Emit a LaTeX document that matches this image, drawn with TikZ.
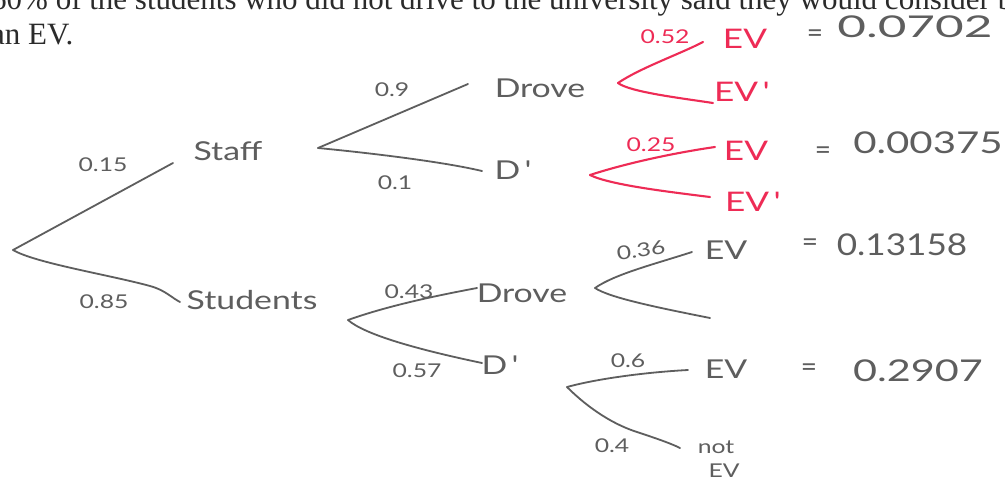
\documentclass[tikz,border=0pt]{standalone}
\usepackage{fontspec}
\setmainfont{Liberation Serif}
\newfontfamily\hand[FakeStretch=1.3]{Lato}
\newfontfamily\handw{Lato}
\definecolor{pencil}{HTML}{5E5E5E}
\definecolor{redink}{HTML}{EE2B55}
\definecolor{printink}{HTML}{2B2B2B}
\tikzset{
  serif/.style={font=\fontsize{31}{31}\selectfont, text=printink, inner sep=0pt},
  lbl/.style={font=\hand\fontsize{26}{26}\selectfont, text=pencil, inner sep=0pt},
  prob/.style={font=\hand\fontsize{19}{19}\selectfont, text=pencil, inner sep=0pt},
  res/.style={font=\handw\fontsize{30}{30}\selectfont, text=pencil, inner sep=0pt},
  eqs/.style={font=\handw\fontsize{28}{28}\selectfont, text=pencil, inner sep=0pt},
  small/.style={font=\hand\fontsize{19}{19}\selectfont, text=pencil, inner sep=0pt},
  redlbl/.style={font=\hand\fontsize{27}{27}\selectfont, text=redink, inner sep=0pt},
  redprob/.style={font=\hand\fontsize{19}{19}\selectfont, text=redink, inner sep=0pt},
  branch/.style={draw=pencil, line width=1.8pt, line cap=round, line join=round},
  redbranch/.style={draw=redink, line width=2.1pt, line cap=round, line join=round},
}
\begin{document}
\begin{tikzpicture}[x=1pt,y=-1pt]
\useasboundingbox (0,0) rectangle (1005,477);
\fill[white] (0,0) rectangle (1005,477);

% printed question text (cut off)
\node[serif, anchor=base west] (q1) at (-9,9) {60\% of the students who did not drive to the university said they would consider buying};
\node[serif, anchor=base west] (q2) at (-9,44) {an EV.};

% ---------- root ----------
\coordinate (r) at (13,250);
\coordinate (staffin) at (173,163);
\coordinate (studin) at (180,302);
\node[lbl] (staff) at (228,151) {Staff};
\node[lbl] (stud) at (252,300) {Students};
\node[prob] (p15) at (103,165) {0.15};
\node[prob] (p85) at (104,302) {0.85};
\draw[branch] (r) -- (staffin);
\draw[branch] (r) .. controls (35,263) and (110,275) .. (150,286) .. controls (165,290) and (172,298) .. (studin);

% ---------- staff ----------
\coordinate (sv) at (318,148);
\coordinate (sdin) at (468,84);
\coordinate (sdpin) at (482,171);
\node[lbl] (sdrove) at (540,88) {Drove};
\node[lbl] (sdp) at (513,170) {D\,'};
\node[prob] (p9) at (392,90) {0.9};
\node[prob] (p1) at (395,183) {0.1};
\draw[branch] (sv) -- (sdin);
\draw[branch] (sv) .. controls (360,152) and (440,161) .. (sdpin);

% red: staff drove
\coordinate (rv1) at (618,83);
\coordinate (rv1a) at (703,42);
\coordinate (rv1b) at (713,103);
\node[redprob] (p52) at (665,37) {0.52};
\node[redlbl] (ev1) at (745,39) {EV};
\node[redlbl] (ev1n) at (742,92) {EV\,'};
\node[eqs] (eq1) at (815,36) {=};
\node[res] (r1) at (915,27) {\scalebox{1.65}[1]{0.0702}};
\draw[redbranch] (rv1) .. controls (640,68) and (680,54) .. (rv1a);
\draw[redbranch] (rv1) .. controls (630,92) and (680,98) .. (rv1b);

% red: staff not drove
\coordinate (rv2) at (590,175);
\coordinate (rv2a) at (715,147);
\coordinate (rv2b) at (710,197);
\node[redprob] (p25) at (651,145) {0.25};
\node[redlbl] (ev2) at (746,151) {EV};
\node[redlbl] (ev2n) at (753,202) {EV\,'};
\node[eqs] (eq2) at (823,153) {=};
\node[res] (r2) at (928,143) {\scalebox{1.34}[1]{0.00375}};
\draw[redbranch] (rv2) .. controls (630,162) and (680,152) .. (rv2a);
\draw[redbranch] (rv2) .. controls (610,185) and (670,192) .. (rv2b);

% ---------- students ----------
\coordinate (tv) at (348,320);
\coordinate (tdin) at (477,288);
\coordinate (tdpin) at (482,363);
\node[lbl] (tdrove) at (522,293) {Drove};
\node[lbl] (tdp) at (500,365) {D\,'};
\node[prob] (p43) at (409,292) {0.43};
\node[prob] (p57) at (417,371) {0.57};
\draw[branch] (tv) .. controls (390,305) and (440,295) .. (tdin);
\draw[branch] (tv) .. controls (365,335) and (420,350) .. (tdpin);

% students drove
\coordinate (dv) at (595,288);
\coordinate (dva) at (692,252);
\coordinate (dvb) at (710,318);
\node[prob, rotate=8] (p36) at (641,250) {0.36};
\node[lbl] (ev3) at (726,250) {EV};
\node[eqs] (eq3) at (810,245) {=};
\node[res] (r3) at (902,245) {\scalebox{1.17}[1]{0.13158}};
\draw[branch] (dv) .. controls (615,274) and (655,264) .. (dva);
\draw[branch] (dv) .. controls (610,298) and (660,308) .. (dvb);

% students not drove
\coordinate (nv) at (567,387);
\coordinate (nva) at (688,370);
\coordinate (nvb) at (680,448);
\node[prob] (p6) at (628,361) {0.6};
\node[lbl] (ev4) at (726,369) {EV};
\node[eqs] (eq4) at (809,370) {=};
\node[res] (r4) at (918,371) {\scalebox{1.38}[1]{0.2907}};
\node[prob] (p4) at (612,446) {0.4};
\node[small] (notl) at (716,447) {not};
\node[small] (ev5) at (724,471) {EV};
\draw[branch] (nv) .. controls (600,378) and (650,372) .. (nva);
\draw[branch] (nv) .. controls (590,410) and (615,425) .. (637,432) .. controls (655,438) and (670,443) .. (nvb);
\end{tikzpicture}
\end{document}
